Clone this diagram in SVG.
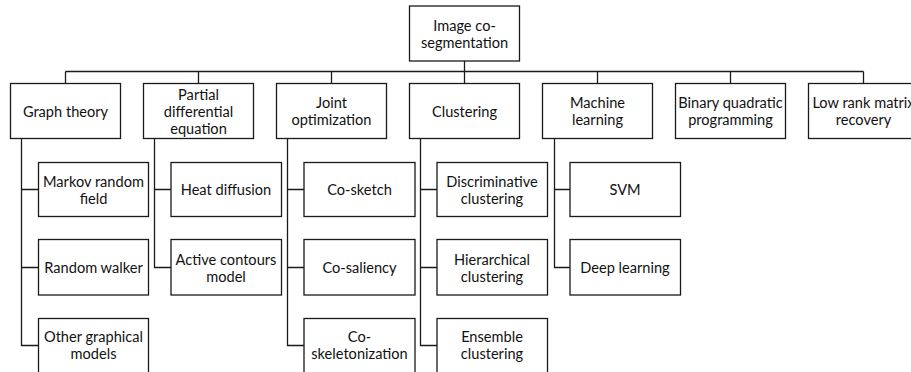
<svg xmlns="http://www.w3.org/2000/svg" width="911" height="372" viewBox="0 0 911 372">
<style>
.box{fill:#fff;stroke:#1a1a1a;stroke-width:1.3}
.ln{fill:none;stroke:#1a1a1a;stroke-width:1.3}
text{font-family:Lato,"Liberation Sans",sans-serif;font-size:14.6px;fill:#111;text-anchor:middle;dominant-baseline:central}
</style>
<g id="connectors" class="ln">
<path d="M464.5 61V71.5M65.5 71.5H863.5M65.5 71.5V83.5M198.5 71.5V83.5M331.5 71.5V83.5M464.5 71.5V83.5M597.5 71.5V83.5M730.5 71.5V83.5M863.5 71.5V83.5"/>
<path d="M21.5 138.5V345.5H38.5M21.5 189.5H38.5M21.5 267.5H38.5"/>
<path d="M154.5 138.5V267.5H171M154.5 189.5H171"/>
<path d="M287.5 138.5V345.5H304M287.5 189.5H304M287.5 267.5H304"/>
<path d="M420.5 138.5V345.5H437M420.5 189.5H437M420.5 267.5H437"/>
<path d="M554.5 138.5V267.5H570M554.5 189.5H570"/>
</g>
<g id="root"><rect class="box" x="409.5" y="6" width="110" height="55"/><text x="464.5" y="25">Image co-</text><text x="464.5" y="42">segmentation</text></g>
<g id="graph-theory"><rect class="box" x="10.5" y="83.5" width="110" height="55"/><text x="65.5" y="111">Graph theory</text></g>
<g id="pde"><rect class="box" x="143.5" y="83.5" width="110" height="55"/><text x="198.5" y="94">Partial</text><text x="198.5" y="111">differential</text><text x="198.5" y="128">equation</text></g>
<g id="joint-opt"><rect class="box" x="276.5" y="83.5" width="110" height="55"/><text x="331.5" y="102.5">Joint</text><text x="331.5" y="119.5">optimization</text></g>
<g id="clustering"><rect class="box" x="409.5" y="83.5" width="110" height="55"/><text x="464.5" y="111">Clustering</text></g>
<g id="ml"><rect class="box" x="542.5" y="83.5" width="110" height="55"/><text x="597.5" y="102.5">Machine</text><text x="597.5" y="119.5">learning</text></g>
<g id="bqp"><rect class="box" x="675.5" y="83.5" width="110" height="55"/><text x="730.5" y="102.5">Binary quadratic</text><text x="730.5" y="119.5">programming</text></g>
<g id="lowrank"><rect class="box" x="808.5" y="83.5" width="110" height="55"/><text x="863.5" y="102.5">Low rank matrix</text><text x="863.5" y="119.5">recovery</text></g>
<g id="mrf"><rect class="box" x="38.5" y="162.5" width="110" height="54"/><text x="93.5" y="181">Markov random</text><text x="93.5" y="198">field</text></g>
<g id="random-walker"><rect class="box" x="38.5" y="239.5" width="110" height="55.5"/><text x="93.5" y="267.5">Random walker</text></g>
<g id="other-graphical"><rect class="box" x="38.5" y="318.5" width="110" height="55"/><text x="93.5" y="336.5">Other graphical</text><text x="93.5" y="353.5">models</text></g>
<g id="heat-diffusion"><rect class="box" x="171" y="162.5" width="110.5" height="54"/><text x="226" y="189.5">Heat diffusion</text></g>
<g id="active-contours"><rect class="box" x="171" y="239.5" width="110.5" height="55.5"/><text x="226" y="259">Active contours</text><text x="226" y="276">model</text></g>
<g id="co-sketch"><rect class="box" x="304" y="162.5" width="111" height="54"/><text x="359.5" y="189.5">Co-sketch</text></g>
<g id="co-saliency"><rect class="box" x="304" y="239.5" width="111" height="55.5"/><text x="359.5" y="267.5">Co-saliency</text></g>
<g id="co-skeleton"><rect class="box" x="304" y="318.5" width="111" height="55"/><text x="359.5" y="336.5">Co-</text><text x="359.5" y="353.5">skeletonization</text></g>
<g id="discriminative"><rect class="box" x="437" y="162.5" width="110.5" height="54"/><text x="492" y="181">Discriminative</text><text x="492" y="198">clustering</text></g>
<g id="hierarchical"><rect class="box" x="437" y="239.5" width="110.5" height="55.5"/><text x="492" y="259">Hierarchical</text><text x="492" y="276">clustering</text></g>
<g id="ensemble"><rect class="box" x="437" y="318.5" width="110.5" height="55"/><text x="492" y="336.5">Ensemble</text><text x="492" y="353.5">clustering</text></g>
<g id="svm"><rect class="box" x="570" y="162.5" width="110.5" height="54"/><text x="625" y="189.5">SVM</text></g>
<g id="deep-learning"><rect class="box" x="570" y="239.5" width="110.5" height="55.5"/><text x="625" y="267.5">Deep learning</text></g>
</svg>
